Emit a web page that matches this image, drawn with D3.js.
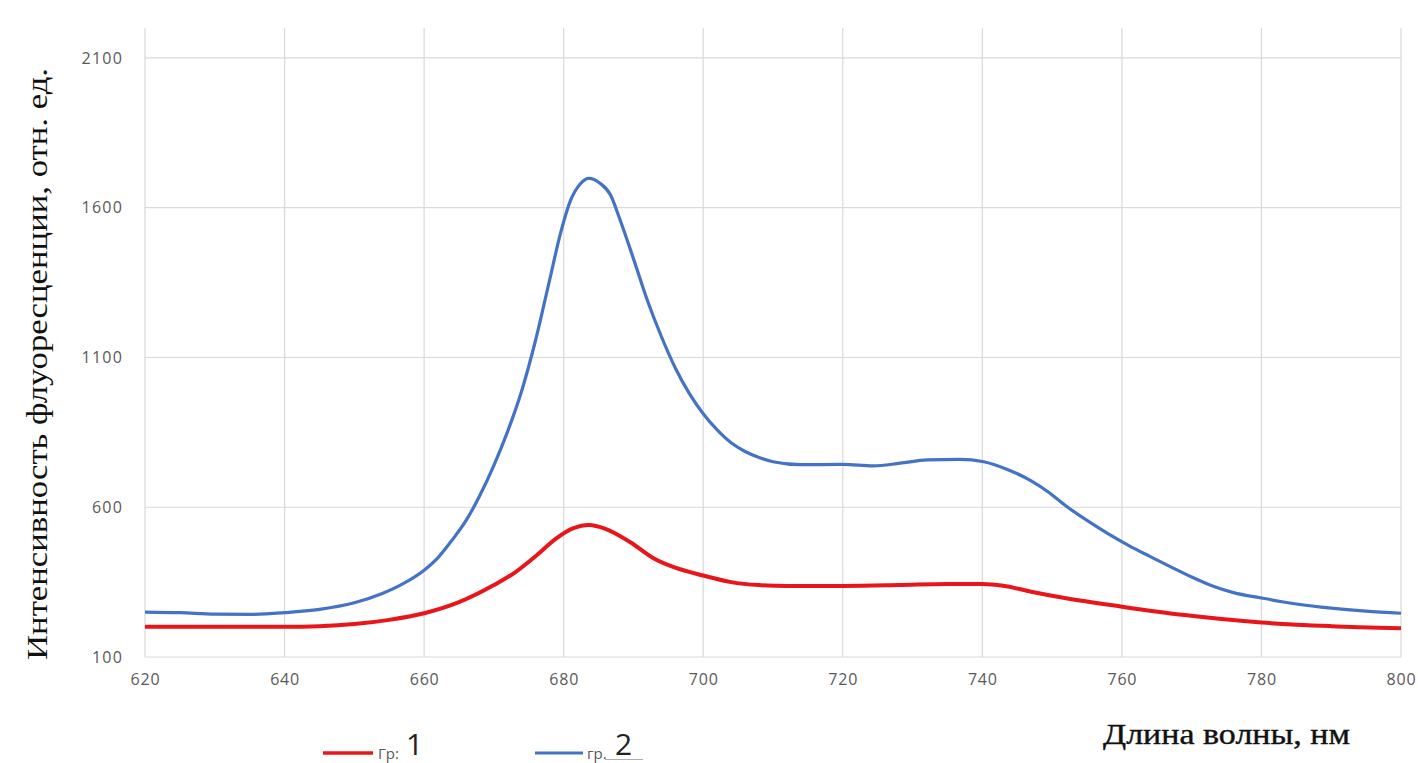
<!DOCTYPE html>
<html><head><meta charset="utf-8">
<script src="https://cdn.jsdelivr.net/npm/d3@7"></script>
<style>body{margin:0;background:#fff;}svg{display:block;}</style>
</head><body>
<svg id="chart" width="1418" height="763"></svg>
<script>
// Data
const xTicks = [620, 640, 660, 680, 700, 720, 740, 760, 780, 800];
const yTicks = [100, 600, 1100, 1600, 2100];
const series1Name = "Гр:";
const series1Num = "1";
const series2Name = "гр.";
const series2Num = "2";
const wavelength1 = [620, 630, 640, 645, 650, 655, 660, 665, 670, 673, 676, 679, 681.4, 683.6, 686, 689.5, 693, 696, 700, 704, 708, 712, 720, 728, 735, 740, 743, 747, 752, 760, 769, 780, 790, 800];
const intensity1 = [201, 201, 201, 203, 210, 224, 246, 283, 340, 382, 437, 497, 530, 541, 528, 484, 428, 398, 372, 350, 340, 337, 337, 340, 344, 344, 338, 318, 296, 268, 240, 215, 203, 196];
const wavelength2 = [620, 625, 630, 635, 640, 645, 650, 654, 657, 660, 662, 664, 666, 668, 670, 672, 674, 676, 678, 679.5, 681, 682.4, 683.6, 685.2, 686.7, 688, 690, 692, 694, 696, 698, 700, 702, 704, 706, 708, 710, 714, 720, 724.4, 728.2, 732.1, 736.8, 740.2, 743.5, 747, 749.5, 752, 755, 758, 761, 764, 767, 770, 773, 776, 780, 785, 790, 795, 800];
const intensity2 = [250, 248, 243, 242, 248, 259, 281, 312, 345, 390, 432, 490, 555, 640, 740, 855, 990, 1160, 1360, 1510, 1625, 1680, 1698, 1682, 1643, 1565, 1430, 1290, 1170, 1065, 980, 912, 858, 815, 786, 766, 752, 742, 743, 738, 747, 758, 760, 752, 727, 688, 650, 604, 556, 512, 472, 436, 401, 367, 337, 315, 297, 277, 263, 253, 246];
const yTitle = "Интенсивность флуоресценции, отн. ед.";
const xTitle = "Длина волны, нм";

const svg = d3.select("#chart");
const L = 145, R = 1401, T = 28, B = 657;
const x = d3.scaleLinear().domain([620, 800]).range([L, R]);
const y = d3.scaleLinear().domain([100, 2200]).range([B, T]);

const grid = "#d9d9d9";
// vertical gridlines
svg.append("g").selectAll("line").data(xTicks).join("line")
  .attr("x1", d => x(d)).attr("x2", d => x(d))
  .attr("y1", T).attr("y2", B)
  .attr("stroke", grid).attr("stroke-width", 1.2);
// horizontal gridlines
svg.append("g").selectAll("line").data(yTicks).join("line")
  .attr("x1", L).attr("x2", R)
  .attr("y1", d => y(d)).attr("y2", d => y(d))
  .attr("stroke", grid).attr("stroke-width", 1.2);

// axes labels via d3 axes
const xAxis = svg.append("g").attr("transform", `translate(0,${B})`)
  .call(d3.axisBottom(x).tickValues(xTicks).tickSize(0).tickPadding(28).tickFormat(d3.format("d")));
xAxis.select(".domain").remove();
xAxis.selectAll("text").attr("fill", "#595959").attr("font-size", 16)
  .attr("font-family", "'Open Sans', sans-serif").attr("letter-spacing", 0.8).attr("dy", 0);

const yAxis = svg.append("g").attr("transform", `translate(${L},0)`)
  .call(d3.axisLeft(y).tickValues(yTicks).tickSize(0).tickPadding(22).tickFormat(d3.format("d")));
yAxis.select(".domain").remove();
yAxis.selectAll("text").attr("fill", "#595959").attr("font-size", 16)
  .attr("font-family", "'Open Sans', sans-serif").attr("letter-spacing", 1.2);

// lines
const line = d3.line().x(d => x(d[0])).y(d => y(d[1])).curve(d3.curveMonotoneX);
svg.append("path").datum(d3.zip(wavelength2, intensity2))
  .attr("d", line).attr("fill", "none").attr("stroke", "#4472c4").attr("stroke-width", 3.2)
  .attr("stroke-linejoin", "round");
svg.append("path").datum(d3.zip(wavelength1, intensity1))
  .attr("d", line).attr("fill", "none").attr("stroke", "#e8161b").attr("stroke-width", 4)
  .attr("stroke-linejoin", "round");

// titles
svg.append("text").attr("transform", "translate(47,364) rotate(-90)")
  .attr("text-anchor", "middle").attr("font-family", "'Liberation Serif', serif")
  .attr("font-size", 29).attr("fill", "#111")
  .attr("textLength", 592).attr("lengthAdjust", "spacingAndGlyphs").text(yTitle);
svg.append("text").attr("x", 1103).attr("y", 744)
  .attr("font-family", "'Liberation Serif', serif")
  .attr("font-size", 29).attr("fill", "#111").attr("stroke", "#111").attr("stroke-width", 0.4)
  .attr("textLength", 247).attr("lengthAdjust", "spacingAndGlyphs").text(xTitle);

// legend
const lg = svg.append("g");
lg.append("line").attr("x1", 323).attr("x2", 373).attr("y1", 753).attr("y2", 753)
  .attr("stroke", "#e8161b").attr("stroke-width", 3.5);
lg.append("text").attr("x", 378).attr("y", 759).attr("font-size", 15)
  .attr("font-family", "'Open Sans', sans-serif").attr("fill", "#595959").text(series1Name);
lg.append("text").attr("x", 406).attr("y", 755).attr("font-size", 30)
  .attr("font-family", "'Open Sans', sans-serif").attr("fill", "#222").text(series1Num);
lg.append("line").attr("x1", 535).attr("x2", 583).attr("y1", 753).attr("y2", 753)
  .attr("stroke", "#4472c4").attr("stroke-width", 3);
lg.append("text").attr("x", 587).attr("y", 759).attr("font-size", 15)
  .attr("font-family", "'Open Sans', sans-serif").attr("fill", "#595959").text(series2Name);
lg.append("line").attr("x1", 605).attr("x2", 643).attr("y1", 759.5).attr("y2", 759.5)
  .attr("stroke", "#999").attr("stroke-width", 0.8);
lg.append("text").attr("x", 615).attr("y", 755).attr("font-size", 30)
  .attr("font-family", "'Open Sans', sans-serif").attr("fill", "#222").text(series2Num);
</script>
</body></html>
